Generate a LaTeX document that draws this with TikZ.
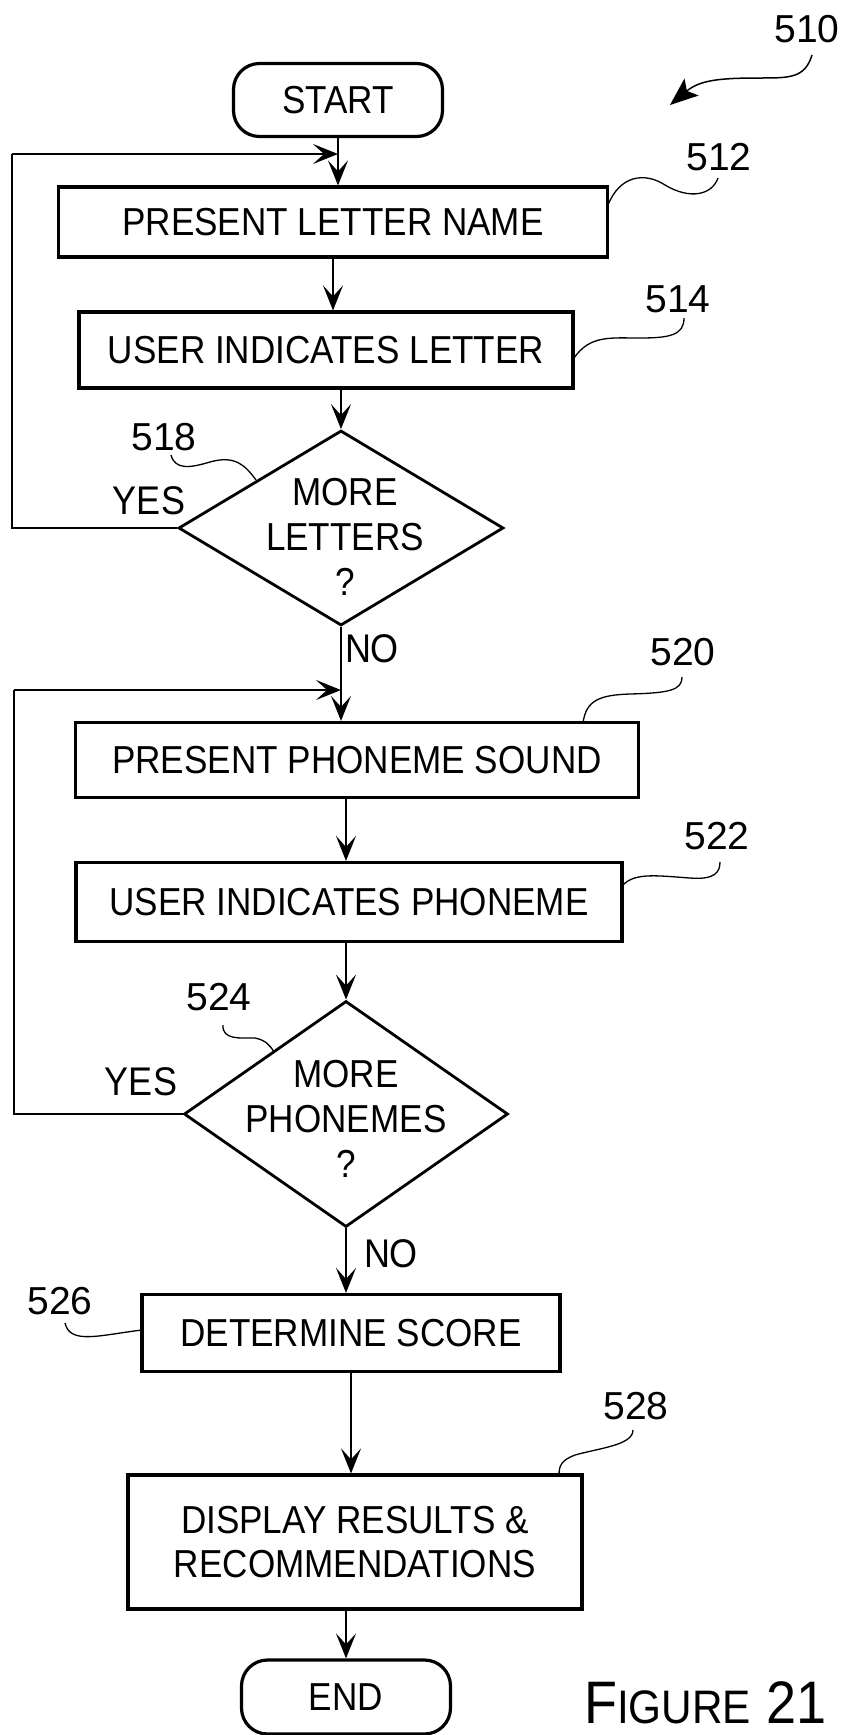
\documentclass[tikz,border=0pt]{standalone}
\usepackage{fontspec}
\setmainfont{Liberation Sans}
\newfontfamily\cond[FakeStretch=0.9]{Liberation Sans}
\usetikzlibrary{arrows.meta,shapes.geometric}
\begin{document}
\begin{tikzpicture}[x=1pt,y=-1pt,
  box/.style={draw, line width=3.2pt, rectangle, inner sep=0pt, align=center,
              font=\cond\fontsize{39}{44}\selectfont},
  term/.style={box, rounded corners=26pt},
  dec/.style={draw, diamond, line width=2.8pt, inner sep=0pt},
  dtext/.style={inner sep=0pt, align=center, font=\cond\fontsize{39}{45}\selectfont},
  arr/.style={line width=1.6pt, -{Stealth[length=25pt,width=20pt,inset=11pt]}},
  wire/.style={line width=1.6pt},
  lead/.style={line width=1.3pt},
  num/.style={inner sep=0pt, font=\fontsize{39}{44}\selectfont},
  lbl/.style={inner sep=0pt, font=\cond\fontsize{40}{44}\selectfont}
]
\path[use as bounding box, fill=white] (0,0) rectangle (847,1735);

% nodes
\node[term, minimum width=209pt, minimum height=73pt] (start) at (338,100) {START};
\node[box, minimum width=549pt, minimum height=70pt] (b512) at (333,222) {PRESENT LETTER NAME};
\node[box, minimum width=494pt, minimum height=76pt] (b514) at (326,350) {USER INDICATES LETTER};
\node[dec, minimum width=325pt, minimum height=195pt] (d518) at (341,528) {};
\node[dtext] (d518t) at (345,537) {MORE\\LETTERS\\?};
\node[box, minimum width=563pt, minimum height=75pt] (b520) at (357,760) {PRESENT PHONEME SOUND};
\node[box, minimum width=546pt, minimum height=79pt] (b522) at (349,902) {USER INDICATES PHONEME};
\node[dec, minimum width=324pt, minimum height=226pt] (d524) at (346,1114) {};
\node[dtext] (d524t) at (346,1119) {MORE\\PHONEMES\\?};
\node[box, minimum width=418pt, minimum height=77pt] (b526) at (351,1333) {DETERMINE SCORE};
\node[box, minimum width=454pt, minimum height=134pt] (b528) at (355,1542) {DISPLAY RESULTS \&\\RECOMMENDATIONS};
\node[term, minimum width=209pt, minimum height=74pt] (end) at (346,1697) {END};

% reference numbers
\node[num] (n510) at (807,29) {510};
\node[num] (n512) at (719,157) {512};
\node[num] (n514) at (678,299) {514};
\node[num] (n518) at (164,437) {518};
\node[num] (n520) at (683,652) {520};
\node[num] (n522) at (717,836) {522};
\node[num] (n524) at (219,997) {524};
\node[num] (n526) at (60,1301) {526};
\node[num] (n528) at (636,1406) {528};

% branch labels
\node[lbl] (yes1) at (149,501) {YES};
\node[lbl] (no1) at (372,649) {NO};
\node[lbl] (yes2) at (141,1082) {YES};
\node[lbl] (no2) at (391,1254) {NO};

% figure caption
\node[anchor=base west, inner sep=0pt] (fig) at (584,1723)
  {\cond\fontsize{60}{62}\selectfont F\fontsize{47}{50}\selectfont IGURE\fontsize{60}{62}\selectfont{} 21};

% junction coordinates
\coordinate (j1) at (338,154);
\coordinate (c1) at (12,154);
\coordinate (j2) at (341,690);
\coordinate (c2) at (14,690);

% main flow
\draw[arr] (start.south) -- (start.south |- b512.north);
\draw[arr] (b512.south) -- (b512.south |- b514.north);
\draw[arr] (d518.north |- b514.south) -- (d518.north);
\draw[arr] (d518.south) -- (d518.south |- b520.north);
\draw[arr] (d524.north |- b520.south) -- (d524.north |- b522.north);
\draw[arr] (d524.north |- b522.south) -- (d524.north);
\draw[arr] (d524.south) -- (d524.south |- b526.north);
\draw[arr] (b526.south) -- (b526.south |- b528.north);
\draw[arr] (end.north |- b528.south) -- (end.north);

% loops
\draw[wire] (d518.west) -| (c1);
\draw[arr] (c1) -- (j1);
\draw[wire] (d524.west) -| (c2);
\draw[arr] (c2) -- (j2);

% leader coordinates
\coordinate (s510) at (812,55);
\coordinate (e510) at (670,105);
\coordinate (s512) at (718,178);
\coordinate (e512) at (608,205);
\coordinate (s514) at (684,318);
\coordinate (e514) at (574,358);
\coordinate (s518) at (171,455);
\coordinate (e518) at (256,480);
\coordinate (s520) at (682,677);
\coordinate (e520) at (583,723);
\coordinate (s522) at (720,862);
\coordinate (e522) at (623,885);
\coordinate (s524) at (223,1025);
\coordinate (e524) at (274,1052);
\coordinate (s526) at (65,1323);
\coordinate (e526) at (142,1330);
\coordinate (s528) at (633,1430);
\coordinate (e528) at (559,1475);

% leaders
\draw[line width=1.5pt, -{Stealth[length=28pt,width=22pt,inset=6pt]}]
  (s510) .. controls (805,78) and (790,78) .. (760,78)
         .. controls (720,78) and (700,80) .. (e510);
\draw[lead] (e512) .. controls (620,175) and (645,172) .. (665,185) .. controls (690,200) and (712,195) .. (s512);
\draw[lead] (e514) .. controls (590,335) and (610,338) .. (640,338) .. controls (670,338) and (684,335) .. (s514);
\draw[lead] (s518) .. controls (175,470) and (190,468) .. (210,462) .. controls (235,455) and (245,465) .. (e518);
\draw[lead] (e520) .. controls (586,700) and (600,695) .. (630,694) .. controls (670,693) and (682,690) .. (s520);
\draw[lead] (e522) .. controls (635,872) and (660,876) .. (690,878) .. controls (715,880) and (720,872) .. (s522);
\draw[lead] (s524) .. controls (222,1040) and (240,1038) .. (255,1038) .. controls (265,1040) and (270,1045) .. (e524);
\draw[lead] (s526) .. controls (70,1345) and (100,1335) .. (e526);
\draw[lead] (s528) .. controls (633,1445) and (600,1448) .. (575,1455) .. controls (562,1460) and (559,1465) .. (e528);
\end{tikzpicture}
\end{document}
